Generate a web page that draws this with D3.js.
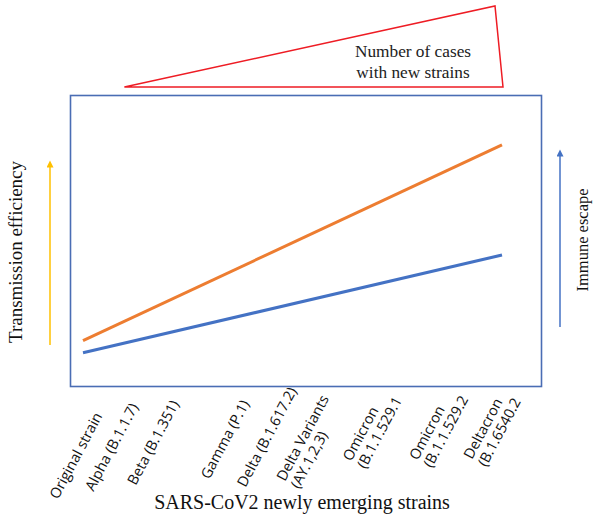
<!DOCTYPE html>
<html><head><meta charset="utf-8">
<script src="https://cdn.jsdelivr.net/npm/d3@7"></script>
<style>body{margin:0;background:#fff}svg{display:block}</style>
</head><body>
<script>
const categories = ["Original strain","Alpha (B.1.1.7)","Beta (B.1.351)","Gamma (P.1)","Delta (B.1.617.2)","Delta Variants|(AY.1,2,3)","Omicron|(B.1.1.529.1","Omicron|(B.1.1.529.2","Deltacron|(B.1.6540.2"];
const transmission = [{cat:"Original strain", v:15.8},{cat:"Deltacron|(B.1.6540.2", v:83}];
const immune = [{cat:"Original strain", v:11.6},{cat:"Deltacron|(B.1.6540.2", v:45.2}];

const W=593,H=518;
const svg=d3.select("body").append("svg").attr("width",W).attr("height",H);
const box={x0:70.5,x1:541.5,y0:95.5,y1:386.5};
const x=d3.scalePoint().domain(categories).range([83,502]);
const y=d3.scaleLinear().domain([0,100]).range([box.y1,box.y0]);

// red wedge
const wy=d3.scaleLinear().domain([0,100]).range([87,6]);
svg.append("path")
  .attr("d",`M${x("Alpha (B.1.1.7)")-11},${wy(0)} L${x(categories[8])-7},${wy(100)} L${x(categories[8])+1},${wy(0)} Z`)
  .attr("fill","none").attr("stroke","#ee1c24").attr("stroke-width",1.5).attr("stroke-linejoin","miter");
svg.append("text").attr("x",413).attr("y",57).attr("text-anchor","middle")
  .attr("font-family","Liberation Serif").attr("font-size",17.3).attr("fill","#222")
  .selectAll("tspan").data(["Number of cases","with new strains"]).join("tspan")
  .attr("x",413).attr("dy",(d,i)=>i?21:0).text(d=>d);

// box
svg.append("rect").attr("x",box.x0).attr("y",box.y0).attr("width",box.x1-box.x0).attr("height",box.y1-box.y0)
  .attr("fill","none").attr("stroke","#4a6db4").attr("stroke-width",1.6);

const line=d3.line().x(d=>x(d.cat)).y(d=>y(d.v));
svg.append("path").datum(transmission).attr("d",line).attr("fill","none").attr("stroke","#ed7d31").attr("stroke-width",3);
svg.append("path").datum(immune).attr("d",line).attr("fill","none").attr("stroke","#4472c4").attr("stroke-width",3);

// arrows
const defs=svg.append("defs");
function marker(id,color){
  defs.append("marker").attr("id",id).attr("viewBox","0 0 10 10").attr("refX",2).attr("refY",5)
    .attr("markerWidth",9).attr("markerHeight",7).attr("orient","auto").attr("markerUnits","userSpaceOnUse")
    .append("path").attr("d","M0,0 L10,5 L0,10 Z").attr("fill",color);
}
marker("ay","#ffc000");marker("ab","#4472c4");
svg.append("line").attr("x1",50).attr("x2",50).attr("y1",345).attr("y2",166).attr("stroke","#ffc000").attr("stroke-width",1.5).attr("marker-end","url(#ay)");
svg.append("line").attr("x1",560).attr("x2",560).attr("y1",327).attr("y2",155).attr("stroke","#4472c4").attr("stroke-width",1.5).attr("marker-end","url(#ab)");

svg.append("text").attr("transform","translate(22,252) rotate(-90)").attr("text-anchor","middle")
  .attr("font-family","Liberation Serif").attr("font-size",19).attr("fill","#111").text("Transmission efficiency");
svg.append("text").attr("transform","translate(588,240) rotate(-90)").attr("text-anchor","middle")
  .attr("font-family","Liberation Serif").attr("font-size",16.5).attr("fill","#111").text("Immune escape");

// x labels (start-anchored, rotated)
const labelDx=[-25,-42,-52,-31,-47,-60,-46,-32,-30];
const labelY=[500,492,486,480,488,482,462,461,460];
const lg=svg.append("g");
categories.forEach((c,i)=>{
  const lines=c.split("|");
  const t=lg.append("text").attr("transform",`translate(${x(c)+labelDx[i]},${labelY[i]}) rotate(-62)`)
    .attr("text-anchor","start").attr("font-family","Open Sans").attr("font-size",14.5).attr("fill","#111");
  lines.forEach((l,j)=>t.append("tspan").attr("x",0).attr("dy",j?16:0).text(l));
});

svg.append("text").attr("x",302).attr("y",509).attr("text-anchor","middle")
  .attr("font-family","Liberation Serif").attr("font-size",20).attr("fill","#111").text("SARS-CoV2 newly emerging strains");
</script>
</body></html>
